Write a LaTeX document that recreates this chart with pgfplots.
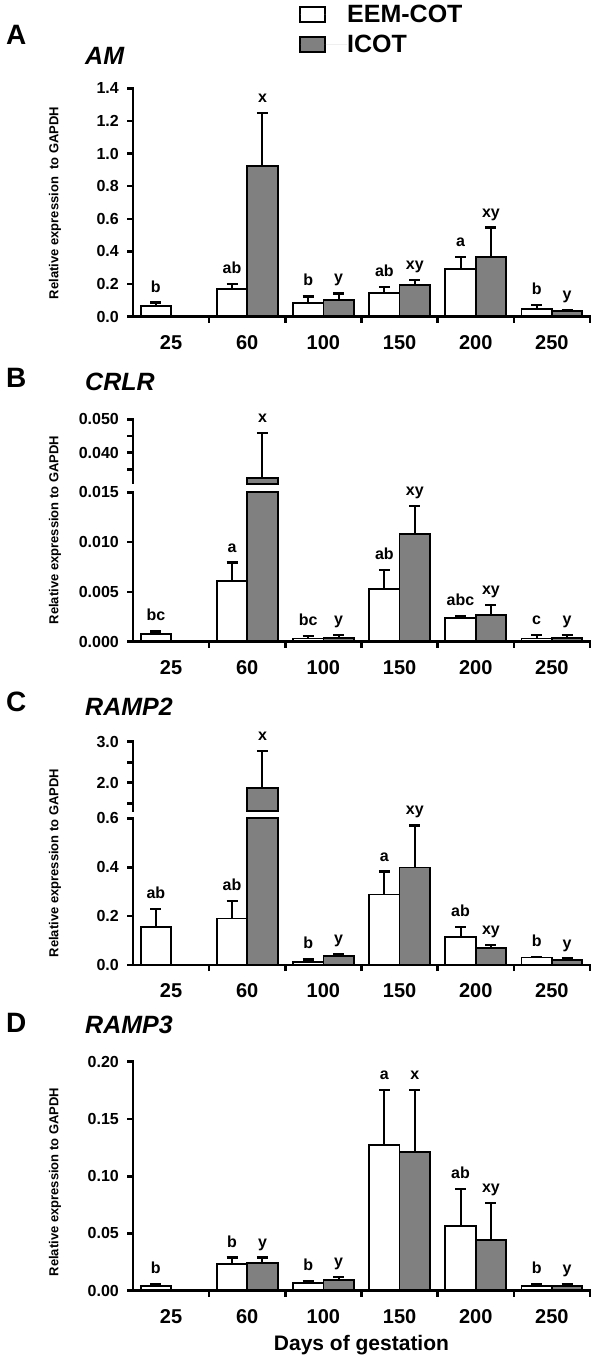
\documentclass[border=0pt]{standalone}
\usepackage{fontspec}
\setmainfont{Liberation Sans}
\usepackage{pgfplots}
\usepackage{pgfplotstable}
\pgfplotsset{compat=1.18}
\definecolor{barg}{RGB}{128,128,128}

\pgfplotstableread{
x y e
0 0.065 0.021
1 0.172 0.030
2 0.084 0.041
3 0.143 0.039
4 0.290 0.076
5 0.047 0.025
}\Aw
\pgfplotstableread{
x y e
1 0.926 0.321
2 0.100 0.043
3 0.196 0.029
4 0.366 0.180
5 0.033 0.008
}\Ag
\pgfplotstableread{
x y e
0 0.00077 0.00027
1 0.0061 0.00184
2 0.00033 0.00027
3 0.00532 0.00188
4 0.00238 0.00023
5 0.00033 0.00034
}\Bw
\pgfplotstableread{
x y e
2 0.0004 0.00027
3 0.01085 0.00278
4 0.00265 0.00103
5 0.0004 0.00027
}\Bg
\pgfplotstableread{
x y e
0 0.154 0.076
1 0.190 0.073
2 0.0136 0.0094
3 0.288 0.094
4 0.116 0.040
5 0.031 0.003
}\Cw
\pgfplotstableread{
x y e
2 0.038 0.008
3 0.399 0.172
4 0.068 0.014
5 0.022 0.004
}\Cg
\pgfplotstableread{
x y e
0 0.0041 0.0017
1 0.0230 0.0060
2 0.0070 0.0017
3 0.1272 0.0481
4 0.0565 0.0323
5 0.0041 0.0020
}\Dw
\pgfplotstableread{
x y e
1 0.0239 0.0051
2 0.0093 0.0029
3 0.1211 0.0542
4 0.0440 0.0326
5 0.0041 0.0020
}\Dg

\pgfplotsset{
  base/.style={
    scale only axis, width=457pt, xmin=-0.5, xmax=5.5,
    clip=false, axis on top,
    axis y line*=left,
    axis line style={line width=2.8pt, line cap=rect, -},
    tick align=outside,
    major tick length=6pt, minor tick length=6pt,
    tick style={line width=2.6pt, black},
    scaled y ticks=false,
    /pgf/number format/assume math mode=true,
    yticklabel style={font=\fontsize{16}{16}\selectfont\bfseries, anchor=east, inner sep=0pt, xshift=-8pt,
      /pgf/number format/.cd, fixed, fixed zerofill},
  },
  lower/.style={base,
    axis x line*=bottom,
    xtick={0,...,5}, xticklabels={25,60,100,150,200,250},
    major x tick style={draw=none},
    minor xtick={0.5,1.5,...,5.5},
    xticklabel style={font=\fontsize{20}{20}\selectfont\bfseries, anchor=center, inner sep=0pt, yshift=-20pt},
    ybar=0pt, bar width=30.4pt,
    error bars/y dir=plus, error bars/y explicit,
    error bars/error bar style={line width=2pt, black, solid},
    error bars/error mark options={rotate=90, line width=2.4pt, mark size=5.5pt, black},
  },
  upper/.style={base, axis x line=none},
  wbar/.style={fill=white, draw=black, line width=1.8pt, bar shift=-15.2pt},
  gbar/.style={fill=barg, draw=black, line width=1.8pt, bar shift=15.2pt},
  ebar/.style={draw=none, mark=none, error bars/.cd, y dir=plus, y explicit,
    error bar style={draw=black, line width=2pt, solid},
    error mark options={rotate=90, draw=black, line width=2.4pt, mark size=5.5pt}},
}
\tikzset{lbl/.style={anchor=base, yshift=10.5pt, inner sep=0pt, font=\fontsize{16}{16}\selectfont\bfseries}}
\newcommand\lab[3]{\node[lbl] at (axis cs:#1,#2) {#3};}

\begin{document}
\begin{tikzpicture}
\useasboundingbox (0,0) rectangle (600pt,-1358pt);

% ---------- A ----------
\begin{axis}[lower, at={(133pt,-316.7pt)}, anchor=south west, height=228.4pt,
  ymin=0, ymax=1.4, ytick={0,0.2,...,1.4}, yticklabel style={/pgf/number format/precision=1},
  legend style={draw=none, fill=none, at={(axis description cs:0.3638,1.3647)}, anchor=north west,
    font=\fontsize{25}{25}\selectfont\bfseries, inner sep=0pt, row sep=11pt,
    nodes={inner sep=0pt}},
  legend cell align=left,
  legend image code/.code={\draw[#1, line width=1.5pt] (0pt,-7.5pt) rectangle (25pt,7.5pt); \path[draw=none] (0pt,0pt) -- (47pt,0pt);},
]
\addplot[wbar] table[x=x, y=y, y error=e] {\Aw};
\addlegendentry{EEM-COT}
\addplot[gbar] table[x=x, y=y, y error=e] {\Ag};
\addlegendentry{ICOT}
\lab{-0.2}{0.086}{b}
\lab{0.8}{0.202}{ab}
\lab{1.2}{1.247}{x}
\lab{1.8}{0.125}{b}
\lab{2.2}{0.143}{y}
\lab{2.8}{0.182}{ab}
\lab{3.2}{0.225}{xy}
\lab{3.8}{0.366}{a}
\lab{4.2}{0.546}{xy}
\lab{4.8}{0.072}{b}
\lab{5.2}{0.041}{y}
\end{axis}

% ---------- B ----------
\begin{axis}[upper, at={(133pt,-482.6pt)}, anchor=south west, height=63.3pt,
  ymin=0.031, ymax=0.050, ytick={0.040,0.050}, minor ytick={0.035,0.045},
  yticklabel style={/pgf/number format/precision=3}]
\addplot[gbar] coordinates {(1.0,0.0305) (1.0,0.0324) (1.4,0.0324) (1.4,0.0305)} -- cycle;
\addplot[ebar] coordinates {(1.2,0.0324) +- (0,0.0134)};
\lab{1.2}{0.0458}{x}
\end{axis}
\begin{axis}[lower, at={(133pt,-641.7pt)}, anchor=south west, height=149.4pt,
  ymin=0, ymax=0.015, ytick={0,0.005,0.010,0.015}, yticklabel style={/pgf/number format/precision=3}]
\addplot[wbar] table[x=x, y=y, y error=e] {\Bw};
\addplot[gbar] table[x=x, y=y, y error=e] {\Bg};
\addplot[gbar, error bars/y dir=none] coordinates {(1,0.015)};
\lab{-0.2}{0.00104}{bc}
\lab{0.8}{0.00794}{a}
\lab{1.8}{0.0006}{bc}
\lab{2.2}{0.00067}{y}
\lab{2.8}{0.0072}{ab}
\lab{3.2}{0.01363}{xy}
\lab{3.8}{0.00261}{abc}
\lab{4.2}{0.00368}{xy}
\lab{4.8}{0.00067}{c}
\lab{5.2}{0.00067}{y}
\end{axis}

% ---------- C ----------
\begin{axis}[upper, at={(133pt,-810.2pt)}, anchor=south west, height=68.5pt,
  ymin=1.33, ymax=3.0, ytick={2,3}, minor ytick={1.5,2.5},
  yticklabel style={/pgf/number format/precision=1}]
\addplot[gbar] coordinates {(1.0,1.31) (1.0,1.863) (1.4,1.863) (1.4,1.31)} -- cycle;
\addplot[ebar] coordinates {(1.2,1.863) +- (0,0.907)};
\lab{1.2}{2.77}{x}
\end{axis}
\begin{axis}[lower, at={(133pt,-965pt)}, anchor=south west, height=146.7pt,
  ymin=0, ymax=0.6, ytick={0,0.2,0.4,0.6}, yticklabel style={/pgf/number format/precision=1}]
\addplot[wbar] table[x=x, y=y, y error=e] {\Cw};
\addplot[gbar] table[x=x, y=y, y error=e] {\Cg};
\addplot[gbar, error bars/y dir=none] coordinates {(1,0.6)};
\lab{-0.2}{0.23}{ab}
\lab{0.8}{0.263}{ab}
\lab{1.8}{0.023}{b}
\lab{2.2}{0.046}{y}
\lab{2.8}{0.382}{a}
\lab{3.2}{0.571}{xy}
\lab{3.8}{0.156}{ab}
\lab{4.2}{0.082}{xy}
\lab{4.8}{0.034}{b}
\lab{5.2}{0.026}{y}
\end{axis}

% ---------- D ----------
\begin{axis}[lower, at={(133pt,-1290.7pt)}, anchor=south west, height=229pt,
  ymin=0, ymax=0.2, ytick={0,0.05,0.10,0.15,0.20}, yticklabel style={/pgf/number format/precision=2}]
\addplot[wbar] table[x=x, y=y, y error=e] {\Dw};
\addplot[gbar] table[x=x, y=y, y error=e] {\Dg};
\lab{-0.2}{0.0058}{b}
\lab{0.8}{0.029}{b}
\lab{1.2}{0.029}{y}
\lab{1.8}{0.0087}{b}
\lab{2.2}{0.0122}{y}
\lab{2.8}{0.1753}{a}
\lab{3.2}{0.1753}{x}
\lab{3.8}{0.0888}{ab}
\lab{4.2}{0.0766}{xy}
\lab{4.8}{0.0061}{b}
\lab{5.2}{0.0061}{y}
\end{axis}

% ---------- text ----------
\tikzset{pl/.style={anchor=west, inner sep=0pt, font=\fontsize{28}{28}\selectfont\bfseries},
         ti/.style={anchor=west, inner sep=0pt, font=\fontsize{25}{25}\selectfont\bfseries\itshape},
         yl/.style={rotate=90, inner sep=0pt, font=\fontsize{13}{13}\selectfont\bfseries}}
\node[pl] at (6pt,-35pt) {A};
\node[pl] at (6pt,-377.5pt) {B};
\node[pl] at (6pt,-702pt) {C};
\node[pl] at (6pt,-1023pt) {D};
\node[ti] at (85pt,-56pt) {AM};
\node[ti] at (85pt,-382pt) {CRLR};
\node[ti] at (85pt,-707pt) {RAMP2};
\node[ti] at (85pt,-1025pt) {RAMP3};
\node[yl] at (55pt,-203pt) {Relative expression\ \ to GAPDH};
\node[yl] at (55pt,-530pt) {Relative expression to GAPDH};
\node[yl] at (55pt,-863pt) {Relative expression to GAPDH};
\node[yl] at (55pt,-1182pt) {Relative expression to GAPDH};
\node[anchor=base, inner sep=0pt, font=\fontsize{21}{21}\selectfont\bfseries] at (361.5pt,-1350pt) {Days of gestation};
\end{tikzpicture}
\end{document}
